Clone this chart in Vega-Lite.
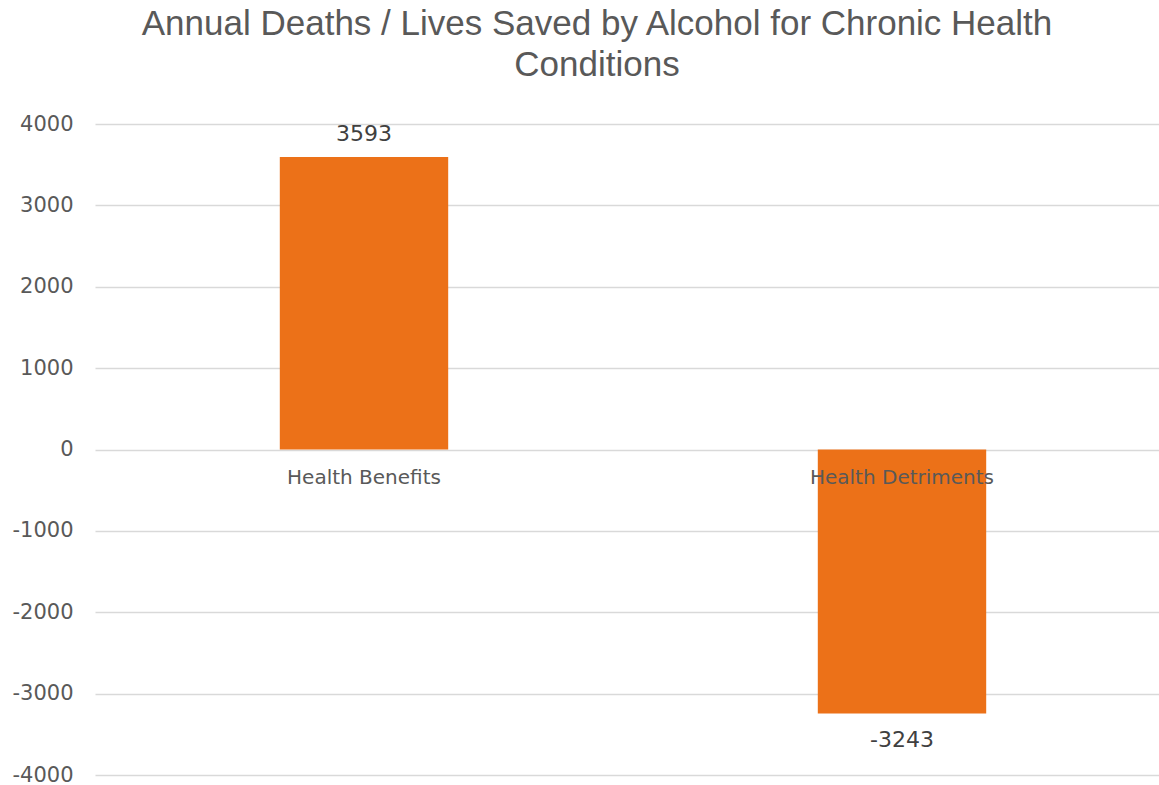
{
  "$schema": "https://vega.github.io/schema/vega-lite/v6.json",
  "autosize": "none",
  "padding": {"left": 95, "top": 124, "right": 0, "bottom": 10},
  "width": 1076,
  "height": 651,
  "background": "white",
  "title": {
    "text": ["Annual Deaths / Lives Saved by Alcohol for Chronic Health", "Conditions"],
    "anchor": "middle",
    "frame": "group",
    "dx": -36,
    "offset": 30,
    "font": "Liberation Sans",
    "fontSize": 35,
    "fontWeight": "normal",
    "color": "#595959",
    "lineHeight": 41
  },
  "config": {
    "view": {"stroke": null},
    "font": "DejaVu Sans"
  },
  "data": {
    "values": [
      {"category": "Health Benefits", "value": 3593},
      {"category": "Health Detriments", "value": -3243}
    ]
  },
  "encoding": {
    "x": {
      "field": "category",
      "type": "nominal",
      "sort": null,
      "scale": {"paddingInner": 0.687, "paddingOuter": 0.3435},
      "axis": {
        "title": null,
        "labelAngle": 0,
        "domain": false,
        "ticks": false,
        "grid": false,
        "zindex": 2,
        "labelOverlap": false,
        "labelLimit": 0,
        "offset": -325.5,
        "labelPadding": 18,
        "labelFontSize": 20,
        "labelColor": "#595959",
        "labelFont": "DejaVu Sans"
      }
    },
    "y": {
      "field": "value",
      "type": "quantitative",
      "scale": {"domain": [-4000, 4000], "nice": false, "zero": false},
      "axis": {
        "title": null,
        "values": [-4000, -3000, -2000, -1000, 0, 1000, 2000, 3000, 4000],
        "labelExpr": "toString(datum.value)",
        "domain": false,
        "ticks": false,
        "zindex": 0,
        "labelPadding": 22,
        "labelFontSize": 21,
        "labelColor": "#595959",
        "labelFont": "DejaVu Sans",
        "gridColor": "#d9d9d9",
        "gridWidth": 1.3
      }
    }
  },
  "layer": [
    {
      "mark": {"type": "bar", "color": "#EC7118"}
    },
    {
      "transform": [{"filter": "datum.value > 0"}],
      "mark": {"type": "text", "baseline": "alphabetic", "dy": -16, "fontSize": 22, "color": "#404040"},
      "encoding": {"text": {"field": "value", "type": "nominal"}}
    },
    {
      "transform": [{"filter": "datum.value < 0"}],
      "mark": {"type": "text", "baseline": "alphabetic", "dy": 34, "fontSize": 22, "color": "#404040"},
      "encoding": {"text": {"field": "value", "type": "nominal"}}
    }
  ]
}
